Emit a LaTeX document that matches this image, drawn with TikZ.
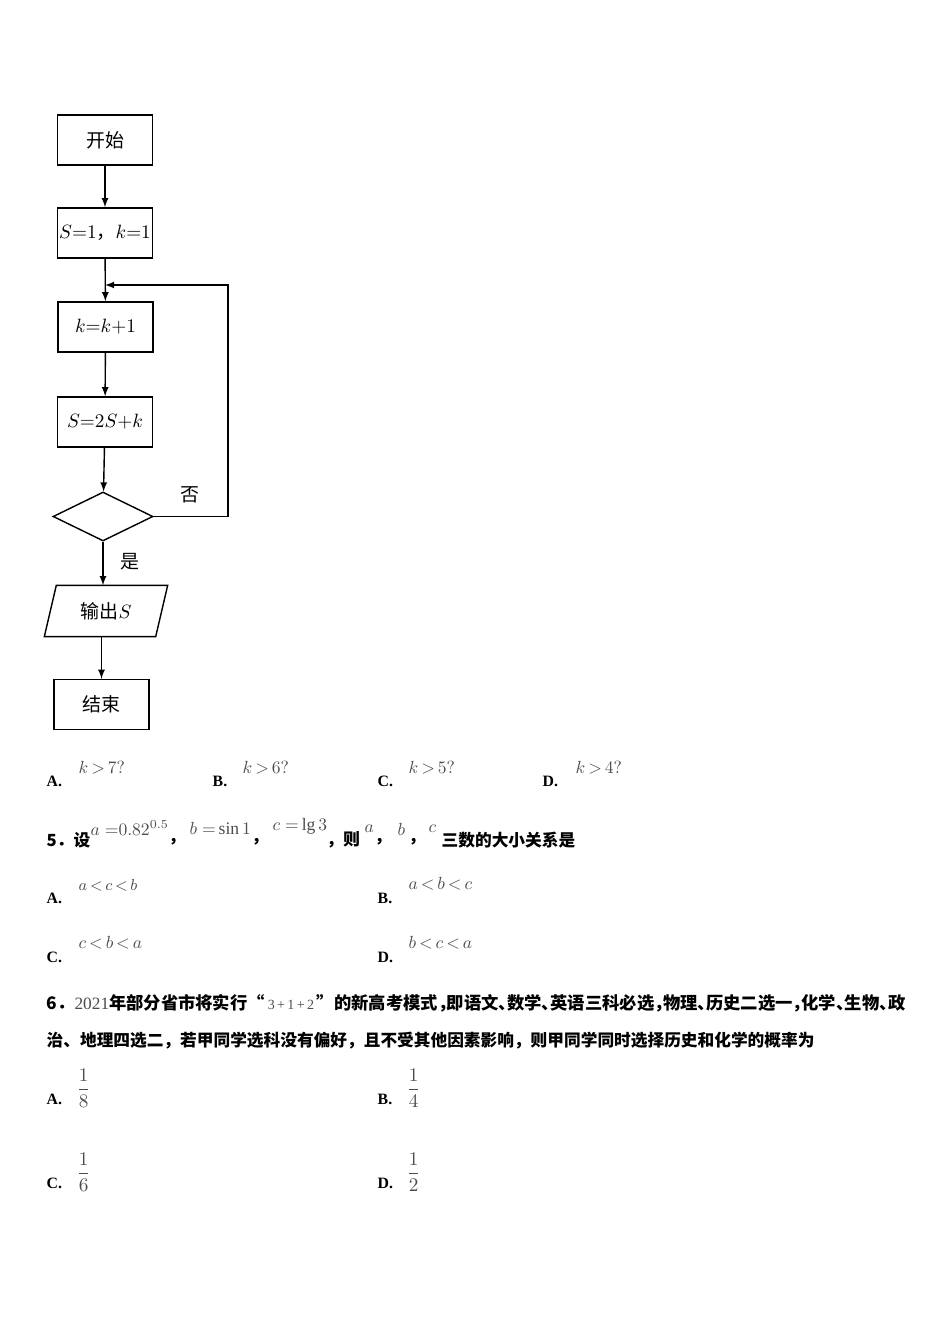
\documentclass[tikz,border=0pt]{standalone}
\usepackage{fontspec}
\usepackage{amsmath}
\setmainfont{Liberation Serif}
\newfontfamily\cjk{Noto Sans CJK SC}
\usetikzlibrary{shapes.geometric}
\definecolor{formula}{gray}{0.3}
\newcommand{\hw}[1]{\makebox[0.5em][l]{#1}}

\begin{document}
\begin{tikzpicture}[x=0.02cm, y=-0.02cm, thick, >=latex,
  box/.style={draw, minimum width=1.9cm, minimum height=1cm, inner sep=0pt, font=\cjk\fontsize{10.8}{13}\selectfont},
  test/.style={draw, diamond, minimum width=2cm, minimum height=0.98cm, inner sep=0pt},
  io/.style={minimum width=2.2cm, minimum height=1cm, inner sep=0pt, font=\cjk\fontsize{10.8}{13}\selectfont},
  lab/.style={font=\cjk\fontsize{10.8}{13}\selectfont},
  opt/.style={anchor=west, inner sep=0pt, font=\bfseries\fontsize{9}{11}\selectfont},
  fml/.style={anchor=west, inner sep=0pt, text=formula, font=\fontsize{10}{12}\selectfont},
  body/.style={anchor=west, inner sep=0pt, font=\cjk\bfseries\fontsize{9.5}{11}\selectfont}]
  \useasboundingbox (0, 0) rectangle (950, 1344);

  % flowchart
  \node[box] (start) at (105, 140) {开始};
  \node[box] (init) at (105, 233) {$S{=}1$，$k{=}1$};
  \node[box] (inc) at (105.5, 327) {$k{=}k{+}1$};
  \node[box] (upd) at (105, 422) {$S{=}2S{+}k$};
  \node[test] (check) at (103, 516.5) {};
  \node[io] (out) at (106, 611) {输出$S$};
  \draw ([xshift=0.12cm]out.north west) -- ([xshift=0.12cm]out.north east)
    -- ([xshift=-0.12cm]out.south east) -- ([xshift=-0.12cm]out.south west) -- cycle;
  \node[box] (stop) at (101.5, 704.5) {结束};
  \coordinate (merge) at (105, 285);
  \coordinate (back) at (228, 285);

  \draw[->] (start) -- (init);
  \draw[->] (init) -- (inc);
  \draw[->] (inc) -- (upd);
  \draw[->] (upd) -- (check);
  \draw[->] (check) -- (check |- out.north);
  \draw[->] (out.south -| stop) -- (stop);
  \draw[->] (check.east) -| (back) -- (merge);
  \node[lab] (no) at (190, 495) {否};
  \node[lab] (yes) at (130, 562) {是};

  % choices for question 4
  \node[opt] (q4a) at (46, 781) {A.};
  \node[fml] (q4af) at (78, 768) {$k\,{>}\,7?$};
  \node[opt] (q4b) at (212, 781) {B.};
  \node[fml] (q4bf) at (242, 768) {$k\,{>}\,6?$};
  \node[opt] (q4c) at (377, 781) {C.};
  \node[fml] (q4cf) at (408, 768) {$k\,{>}\,5?$};
  \node[opt] (q4d) at (542, 781) {D.};
  \node[fml] (q4df) at (575, 768) {$k\,{>}\,4?$};

  % question 5
  \node[body] (q5) at (46, 840) {5．设};
  \node[fml] (q5a) at (90, 828) {$a\;{=}0.82^{0.5}$};
  \node[body] (q5s1) at (168, 842) {，};
  \node[fml] (q5b) at (189, 828) {$b\;{=}\sin 1$};
  \node[body] (q5s2) at (251, 842) {，};
  \node[fml] (q5c) at (272, 826) {$c\;{=}\lg 3$};
  \node[body] (q5s3) at (326, 840) {，则};
  \node[fml] (q5va) at (364, 829) {$a$};
  \node[body] (q5s4) at (374, 842) {，};
  \node[fml] (q5vb) at (397, 829) {$b$};
  \node[body] (q5s5) at (408, 842) {，};
  \node[fml] (q5vc) at (428, 829) {$c$};
  \node[body] (q5t) at (441, 840) {三数的大小关系是};
  \node[opt] (q5oa) at (46, 898) {A.};
  \node[fml, font=\fontsize{8.6}{10}\selectfont] (q5oaf) at (78, 885) {$a\,{<}\,c\,{<}\,b$};
  \node[opt] (q5ob) at (377, 898) {B.};
  \node[fml] (q5obf) at (408, 884) {$a\,{<}\,b\,{<}\,c$};
  \node[opt] (q5oc) at (46, 957) {C.};
  \node[fml] (q5ocf) at (78, 943) {$c\,{<}\,b\,{<}\,a$};
  \node[opt] (q5od) at (377, 957) {D.};
  \node[fml] (q5odf) at (408, 943) {$b\,{<}\,c\,{<}\,a$};

  % question 6
  \node[body, font=\cjk\bfseries\fontsize{9.85}{11}\selectfont] (q6l1) at (46, 1003) {6．\textcolor{formula}{\normalfont 2021}年部分省市将实行“\,\textcolor{formula}{\normalfont\fontsize{8}{10}\selectfont 3\,+\,1\,+\,2}\,”的新高考模式\hw{，}即语文\hw{、}数学\hw{、}英语三科必选\hw{，}物理\hw{、}历史二选一\hw{，}化学\hw{、}生物\hw{、}政};
  \node[body] (q6l2) at (46, 1041) {治、地理四选二，若甲同学选科没有偏好，且不受其他因素影响，则甲同学同时选择历史和化学的概率为};
  \node[opt] (q6a) at (46, 1099) {A.};
  \node[fml, font=\fontsize{11}{13}\selectfont] (q6af) at (76, 1088) {$\dfrac{1}{8}$};
  \node[opt] (q6b) at (377, 1099) {B.};
  \node[fml, font=\fontsize{11}{13}\selectfont] (q6bf) at (406, 1088) {$\dfrac{1}{4}$};
  \node[opt] (q6c) at (46, 1183) {C.};
  \node[fml, font=\fontsize{11}{13}\selectfont] (q6cf) at (76, 1172) {$\dfrac{1}{6}$};
  \node[opt] (q6d) at (377, 1183) {D.};
  \node[fml, font=\fontsize{11}{13}\selectfont] (q6df) at (406, 1172) {$\dfrac{1}{2}$};
\end{tikzpicture}
\end{document}
